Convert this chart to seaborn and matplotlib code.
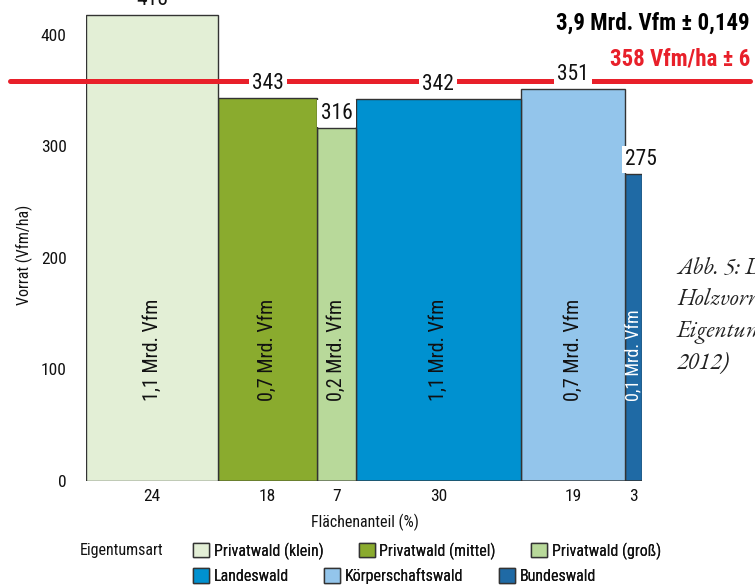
import matplotlib
matplotlib.use('Agg')
import matplotlib.pyplot as plt
from matplotlib.patches import Patch
import numpy as np
import pandas as pd
import seaborn as sns

sns.set_theme(style='white')
plt.rcParams['font.family'] = ['Roboto Condensed', 'DejaVu Sans']

# data
arten = ['Privatwald (klein)', 'Privatwald (mittel)', 'Privatwald (groß)',
         'Landeswald', 'Körperschaftswald', 'Bundeswald']
flaeche = [24, 18, 7, 30, 19, 3]          # Flächenanteil (%)
vorrat = [418, 343, 316, 342, 351, 275]   # Vorrat (Vfm/ha)
mrd = ['1,1 Mrd. Vfm', '0,7 Mrd. Vfm', '0,2 Mrd. Vfm',
       '1,1 Mrd. Vfm', '0,7 Mrd. Vfm', '0,1 Mrd. Vfm']
mittel = 358
mittel_txt = '358 Vfm/ha ± 6'
gesamt_txt = '3,9 Mrd. Vfm ± 0,149'
farben = ['#e3efd6', '#8aab2e', '#b8d99a', '#0091d0', '#93c5eb', '#1f6aa5']

edges = np.concatenate([[0], np.cumsum(flaeche)])
mids = (edges[:-1] + edges[1:]) / 2
df = pd.DataFrame({'art': arten, 'mid': mids, 'vorrat': vorrat})

fig = plt.figure(figsize=(7.55, 5.85), dpi=100)
ax = fig.add_axes([86/755, 1 - 481/585, 556/755, 481/585])

# variable width bars: one weighted observation per bin
sns.histplot(data=df, x='mid', weights='vorrat', hue='art', hue_order=arten,
             palette=farben, bins=[float(e) for e in edges], multiple='layer',
             alpha=1, edgecolor='#333333', linewidth=1, legend=False, ax=ax)

ax.set_xlim(0, edges[-1])
ax.set_ylim(0, 431)
sns.despine(ax=ax, left=True, bottom=True)

ax.set_yticks([0, 100, 200, 300, 400])
ax.tick_params(axis='y', length=0, pad=14, labelsize=12.5, labelcolor='#111111')
ax.set_xticks(mids, [str(f) for f in flaeche])
ax.tick_params(axis='x', length=0, pad=6, labelsize=12.5, labelcolor='#111111')
ax.set_xlabel('Flächenanteil (%)', fontsize=11.5, color='#111111')
ax.set_ylabel('Vorrat (Vfm/ha)', fontsize=11.5, color='#111111')
ax.xaxis.set_label_coords(0.502, -0.068)
ax.yaxis.set_label_coords(-0.095, 0.47)

# mean line, wider than the axes
ax.axhline(mittel, xmin=(10 - 86) / 556, xmax=(750 - 86) / 556,
           color='#e8202a', lw=3.6, clip_on=False, zorder=3)

for i in range(len(arten)):
    last = i == len(arten) - 1
    ax.annotate(str(vorrat[i]), (edges[i] if last else mids[i], vorrat[i]),
                xytext=(0, 3), textcoords='offset points',
                ha='left' if last else 'center', va='bottom',
                fontsize=15.5, annotation_clip=False, zorder=5, color='#111111',
                bbox=dict(boxstyle='square,pad=0.15', fc='white', ec='none'))
    ax.text(mids[i], 72, mrd[i], rotation=90, ha='center', va='bottom',
            fontsize=13 if last else 14.5,
            color='white' if last else '#111111')

fig.text(750/755, 1 - 23/585, gesamt_txt, ha='right', va='center',
         fontsize=16.5, fontweight='bold', color='black')
fig.text(750/755, 1 - 59/585, mittel_txt, ha='right', va='center',
         fontsize=16.5, fontweight='bold', color='#e8202a')

# caption, cut at the right edge like in the reference
caption = ['Abb. 5: Der', 'Holzvorrat nach', 'Eigentumsart (BWI', '2012)']
for k, line in enumerate(caption):
    fig.text(677/755, 1 - (268 + 32 * k)/585, line, ha='left', va='center',
             fontsize=17, style='italic',
             family=['EB Garamond', 'Cormorant Garamond', 'DejaVu Serif'],
             color='#222222')

# legend, two rows laid out like the original
fig.text(80/755, 1 - 551/585, 'Eigentumsart', ha='left', va='center',
         fontsize=11.5, color='#111111')
handles = [Patch(facecolor=c, edgecolor='#333333', linewidth=1, label=a)
           for a, c in zip(arten, farben)]
for row, yy in [(handles[:3], 551), (handles[3:], 576)]:
    leg = fig.legend(handles=row, loc='center left',
                     bbox_to_anchor=(193/755, 1 - yy/585), ncol=3,
                     frameon=False, fontsize=11.5, borderpad=0, borderaxespad=0,
                     handlelength=1.0, handleheight=1.0, handletextpad=0.3,
                     columnspacing=2.2)
    for t in leg.get_texts():
        t.set_color('#111111')
    fig.add_artist(leg)

fig.savefig('out.png', dpi=100)
